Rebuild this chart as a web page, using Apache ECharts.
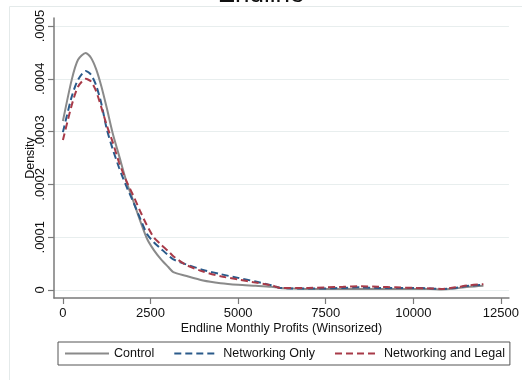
<!DOCTYPE html>
<html><head><meta charset="utf-8">
<script src="https://cdn.jsdelivr.net/npm/echarts@6/dist/echarts.min.js"></script>
<style>html,body{margin:0;padding:0;background:#fff}#c{width:522px;height:380px}</style>
</head><body><div id="c"></div>
<script>
const profits = [0, 250, 430, 650, 800, 950, 1100, 1250, 1420, 1600, 1800, 2000, 2200, 2400, 2600, 2800, 3000, 3150, 3500, 4000, 4500, 5000, 5500, 5950, 6200, 6500, 7000, 7500, 8000, 8500, 9000, 9500, 10000, 10500, 10800, 11200, 11600, 12000];
const control = [3.20e-4, 3.98e-4, 4.36e-4, 4.49e-4, 4.40e-4, 4.18e-4, 3.85e-4, 3.45e-4, 2.97e-4, 2.55e-4, 2.08e-4, 1.70e-4, 1.32e-4, 0.97e-4, 0.75e-4, 0.58e-4, 0.44e-4, 0.34e-4, 0.27e-4, 0.18e-4, 0.13e-4, 0.10e-4, 0.08e-4, 0.06e-4, 0.04e-4, 0.03e-4, 0.02e-4, 0.02e-4, 0.02e-4, 0.02e-4, 0.02e-4, 0.02e-4, 0.02e-4, 0.02e-4, 0.01e-4, 0.03e-4, 0.06e-4, 0.08e-4];
const networkingOnly = [2.99e-4, 3.66e-4, 3.98e-4, 4.15e-4, 4.08e-4, 3.87e-4, 3.52e-4, 3.05e-4, 2.67e-4, 2.32e-4, 1.98e-4, 1.68e-4, 1.36e-4, 1.06e-4, 0.90e-4, 0.78e-4, 0.66e-4, 0.58e-4, 0.49e-4, 0.38e-4, 0.30e-4, 0.23e-4, 0.16e-4, 0.09e-4, 0.04e-4, 0.03e-4, 0.03e-4, 0.03e-4, 0.04e-4, 0.05e-4, 0.04e-4, 0.04e-4, 0.04e-4, 0.03e-4, 0.02e-4, 0.04e-4, 0.08e-4, 0.10e-4];
const networkingLegal = [2.84e-4, 3.50e-4, 3.85e-4, 4.00e-4, 3.95e-4, 3.76e-4, 3.45e-4, 3.12e-4, 2.80e-4, 2.42e-4, 2.08e-4, 1.80e-4, 1.50e-4, 1.22e-4, 0.99e-4, 0.86e-4, 0.74e-4, 0.64e-4, 0.48e-4, 0.35e-4, 0.26e-4, 0.20e-4, 0.14e-4, 0.09e-4, 0.04e-4, 0.04e-4, 0.04e-4, 0.05e-4, 0.06e-4, 0.07e-4, 0.06e-4, 0.05e-4, 0.04e-4, 0.03e-4, 0.02e-4, 0.05e-4, 0.09e-4, 0.11e-4];
const xTicks = [0, 2500, 5000, 7500, 10000, 12500];
const yTicks = [0, 0.0001, 0.0002, 0.0003, 0.0004, 0.0005];
const seriesNames = ['Control', 'Networking Only', 'Networking and Legal'];

const FONT = 'Liberation Sans, Arial, Helvetica, sans-serif';
const pairs = arr => profits.map((x, i) => [x, arr[i]]);
const chart = echarts.init(document.getElementById('c'));
const axisCol = '#7a7a7a';
chart.setOption({
  backgroundColor: '#fff',
  animation: false,
  title: {
    text: 'Endline', left: 'center', top: -23,
    textStyle: { fontFamily: FONT, fontSize: 26, fontWeight: 'normal', color: '#111' }
  },
  graphic: [{
    type: 'rect', left: 7, top: 4, silent: true,
    shape: { x: 0, y: 0, width: 600, height: 500 },
    style: { fill: 'none', stroke: '#e4eaea', lineWidth: 1 }
  }],
  grid: { left: 54, right: 10, top: 18, bottom: 82, containLabel: false },
  legend: {
    left: 58, top: 342, orient: 'horizontal',
    itemWidth: 44, itemHeight: 12, itemGap: 19,
    padding: [5, 5, 5, 6],
    borderColor: '#555', borderWidth: 1, borderRadius: 0,
    itemStyle: { opacity: 0 },
    textStyle: { fontFamily: FONT, fontSize: 12.5, color: '#111' },
    data: seriesNames
  },
  xAxis: {
    type: 'value', min: -255, max: 12729,
    name: 'Endline Monthly Profits (Winsorized)', nameLocation: 'middle', nameGap: 24, nameMoveOverlap: false,
    nameTextStyle: { fontFamily: FONT, fontSize: 12.5, color: '#111' },
    axisLine: { show: true, onZero: false, lineStyle: { color: axisCol, width: 1.5 } },
    axisTick: { show: true, length: 6, customValues: xTicks, lineStyle: { color: axisCol, width: 1.2 } },
    axisLabel: { customValues: xTicks, margin: 9, fontFamily: FONT, fontSize: 13, color: '#111', formatter: v => String(v) },
    splitLine: { show: false }
  },
  yAxis: {
    type: 'value', min: -1.515e-5, max: 5.152e-4,
    name: 'Density', nameLocation: 'middle', nameGap: 17, nameRotate: 90, nameMoveOverlap: false,
    nameTextStyle: { fontFamily: FONT, fontSize: 12.5, color: '#111' },
    axisLine: { show: true, onZero: false, lineStyle: { color: axisCol, width: 1.5 } },
    axisTick: { show: true, length: 6, customValues: yTicks, lineStyle: { color: axisCol, width: 1.2 } },
    axisLabel: { customValues: yTicks, rotate: 90, margin: 7, fontFamily: FONT, fontSize: 13, color: '#111',
      formatter: v => (Math.abs(v) < 1e-12 ? '0' : v.toFixed(4).replace(/^0/, '')) },
    splitLine: { show: true, lineStyle: { color: '#e8eeee', width: 1 } }
  },
  series: [
    { name: seriesNames[0], type: 'line', data: pairs(control), showSymbol: false, symbol: 'none', smooth: 0.25,
      lineStyle: { color: '#8a8a8a', width: 2, type: 'solid' }, itemStyle: { color: '#8a8a8a' }, z: 2 },
    { name: seriesNames[1], type: 'line', data: pairs(networkingOnly), showSymbol: false, symbol: 'none', smooth: 0.25,
      lineStyle: { color: '#2a5a8a', width: 2, type: [7, 4] }, itemStyle: { color: '#2a5a8a' }, z: 3 },
    { name: seriesNames[2], type: 'line', data: pairs(networkingLegal), showSymbol: false, symbol: 'none', smooth: 0.25,
      lineStyle: { color: '#a83a48', width: 2, type: [7, 4] }, itemStyle: { color: '#a83a48' }, z: 4 }
  ]
});
</script></body></html>
